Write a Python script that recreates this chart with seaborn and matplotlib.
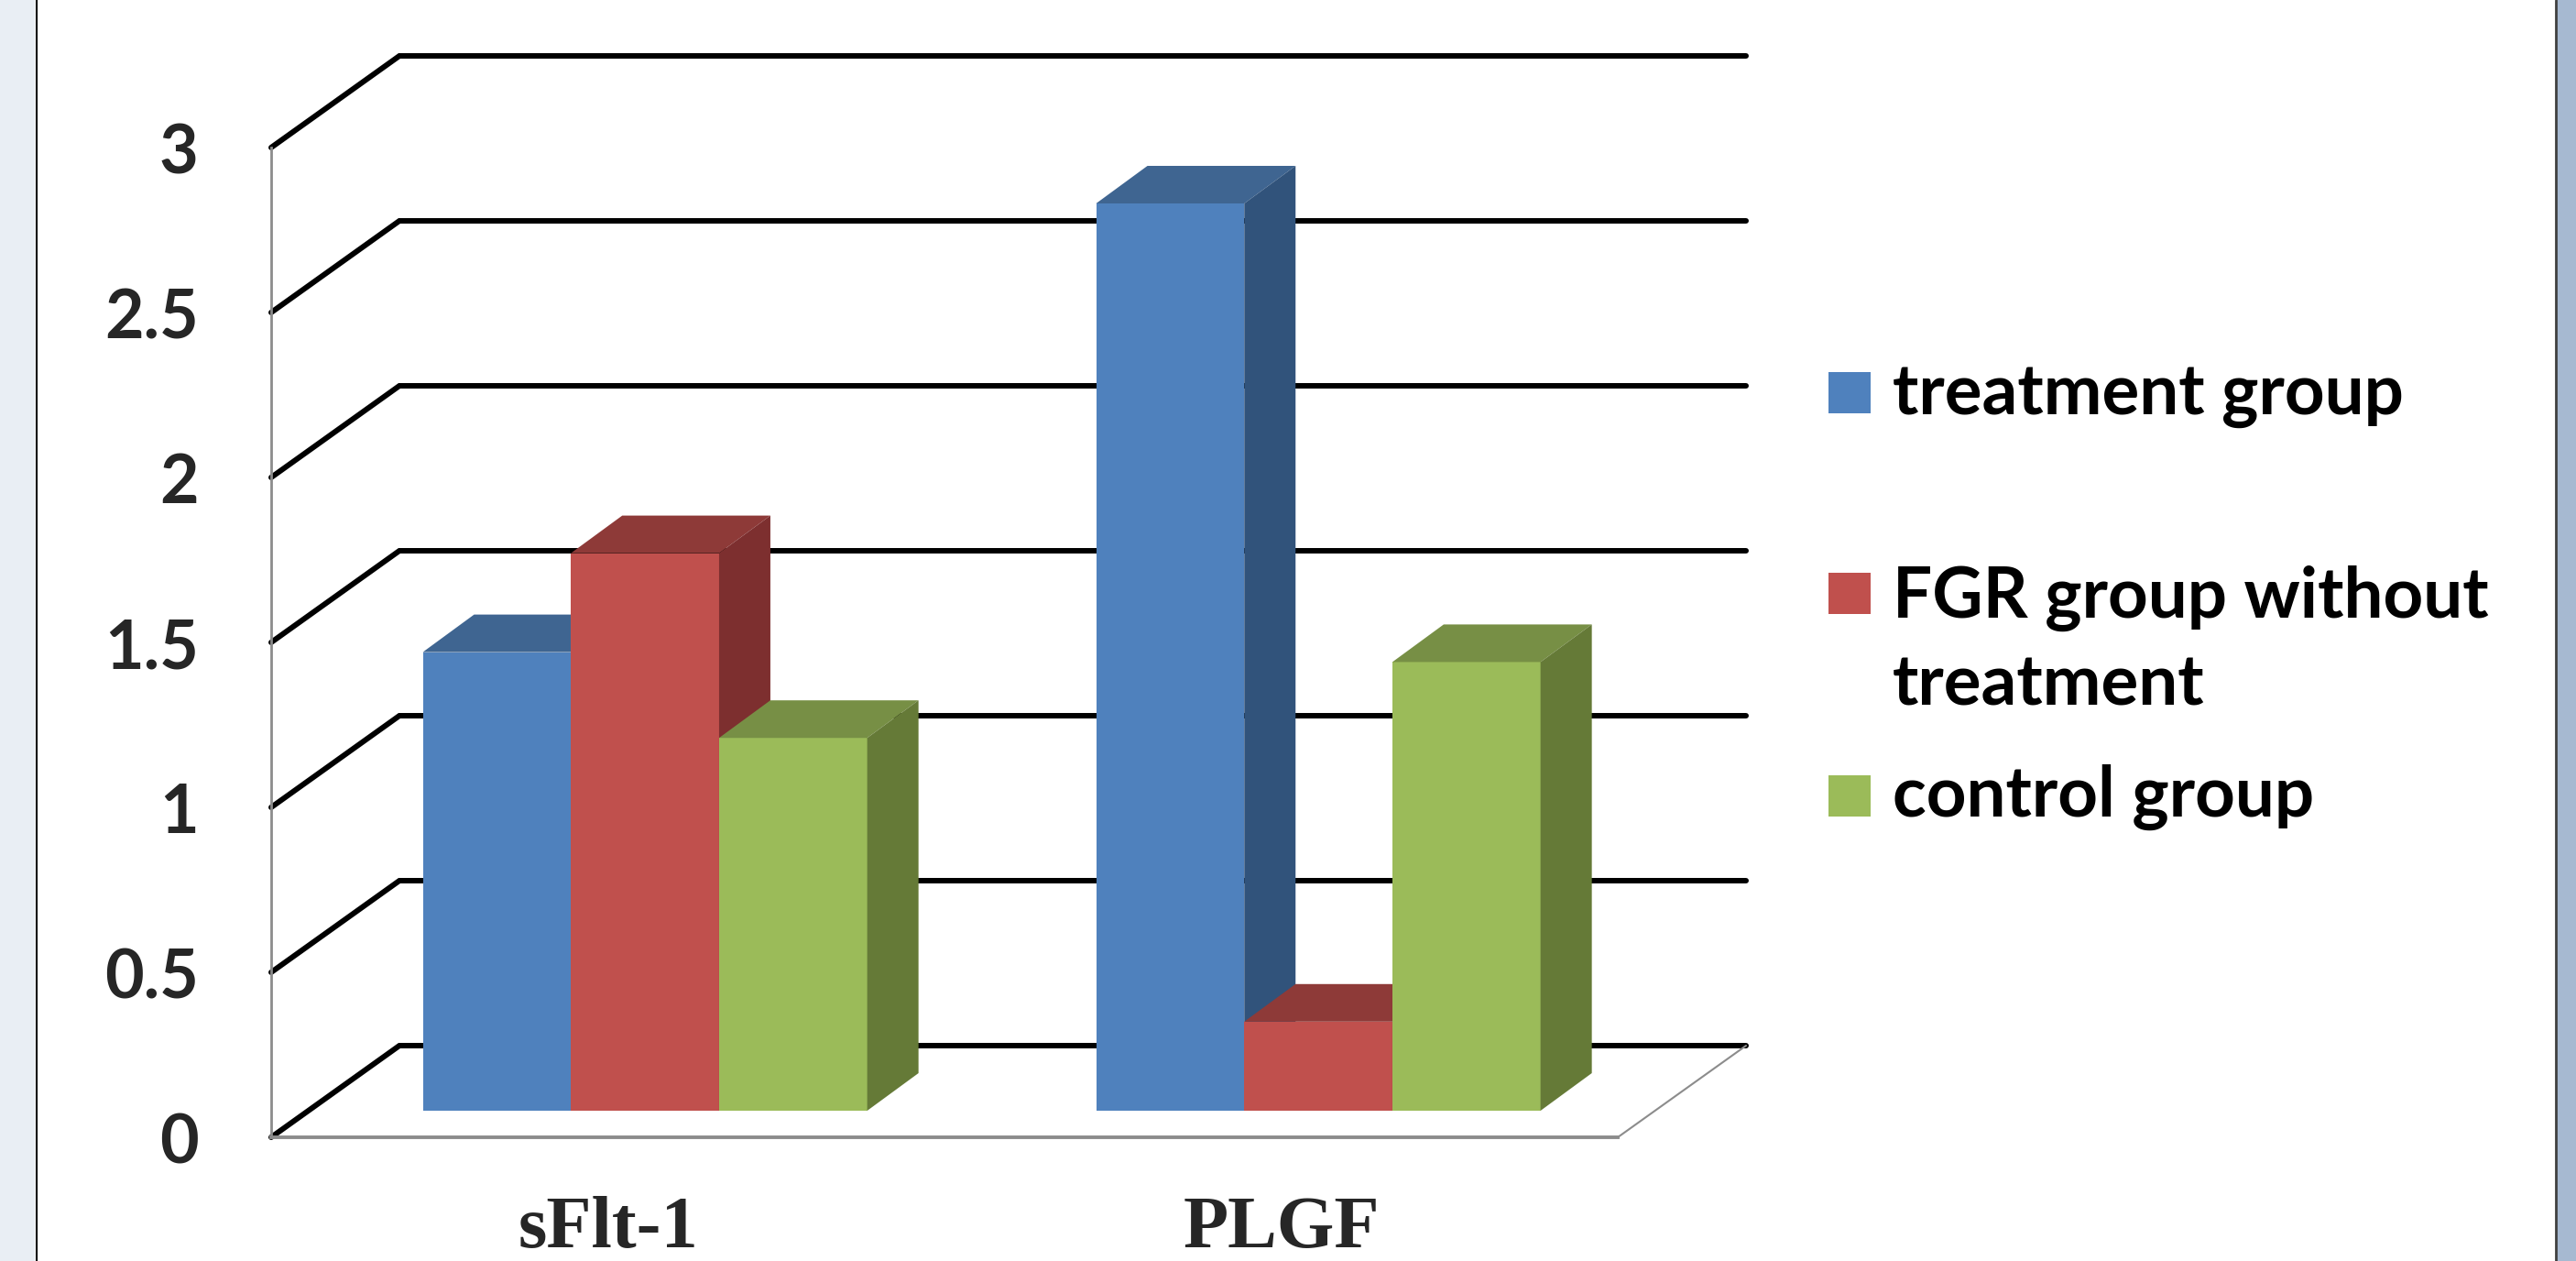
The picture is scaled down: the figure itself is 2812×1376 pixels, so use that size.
import numpy as np
import pandas as pd
import matplotlib
matplotlib.use("Agg")
import matplotlib.pyplot as plt
import matplotlib.transforms as mtransforms
from matplotlib.patches import Polygon, Rectangle
from matplotlib.lines import Line2D
import seaborn as sns

# ---------------- data ----------------
categories = ["sFlt-1", "PLGF"]
series_names = ["treatment group", "FGR group without\ntreatment", "control group"]
treatment_values = [1.39, 2.75]
fgr_values = [1.69, 0.27]
control_values = [1.13, 1.36]
y_ticks = [0, 0.5, 1, 1.5, 2, 2.5, 3]
y_tick_labels = ["0", "0.5", "1", "1.5", "2", "2.5", "3"]

# ---------------- style ----------------
front_colors = ["#4F81BD", "#C0504D", "#9BBB59"]
top_colors = ["#3F6591", "#8E3A38", "#778F45"]
side_colors = ["#31537B", "#7D2F2F", "#657A37"]
AXIS_GRAY = "#8C8C8C"

W, H, DPI = 2812, 1376, 100
sns.set_style("white")
plt.rcParams["font.family"] = ["Lato", "DejaVu Sans"]

fig = plt.figure(figsize=(W / DPI, H / DPI), dpi=DPI, facecolor="white")
ax_l, ax_b, ax_r, ax_t = 296, 1241, 1766, 161
ax = fig.add_axes([ax_l / W, 1 - ax_b / H, (ax_r - ax_l) / W, (ax_b - ax_t) / H])
ax.set_facecolor("none")

df = pd.DataFrame({
    "marker": categories * 3,
    "group": [series_names[0]] * 2 + [series_names[1]] * 2 + [series_names[2]] * 2,
    "value": treatment_values + fgr_values + control_values,
})
sns.barplot(data=df, x="marker", y="value", hue="group", hue_order=series_names,
            order=categories, palette=front_colors, saturation=1, width=0.66,
            linewidth=0, legend=False, ax=ax)
ax.set_xlim(-0.5, 1.5)
ax.set_ylim(0, 3)

px_x = (ax_r - ax_l) / 2.0
px_y = (ax_b - ax_t) / 3.0

# back wall gridlines with depth
DX, DY = 140 / px_x, 100 / px_y
for v in y_ticks:
    ax.plot([-0.5, -0.5 + DX, 1.5 + DX], [v, v + DY, v + DY], color="black", lw=4.3,
            clip_on=False, zorder=1, solid_capstyle="round", solid_joinstyle="miter")
ax.plot([1.5, 1.5 + DX], [0, DY], color=AXIS_GRAY, lw=1.5, clip_on=False, zorder=1)

# 3D bar faces
off = mtransforms.ScaledTranslation(40.6 / DPI, 29 / DPI, fig.dpi_scale_trans)
trans = ax.transData + off
bdx, bdy = 56 / px_x, 41 / px_y
bar_list = []
for k, cont in enumerate(ax.containers):
    for p in cont:
        bar_list.append((p, k))
bar_list.sort(key=lambda t: t[0].get_x())
for i, (p, k) in enumerate(bar_list):
    z = 3 + i * 0.1
    x, w, h = p.get_x(), p.get_width(), p.get_height()
    p.set_transform(trans)
    p.set_zorder(z)
    p.set_clip_on(False)
    top = Polygon([(x, h), (x + w, h), (x + w + bdx, h + bdy), (x + bdx, h + bdy)],
                  closed=True, facecolor=top_colors[k], edgecolor="none",
                  transform=trans, zorder=z + 0.01, clip_on=False)
    side = Polygon([(x + w, 0), (x + w + bdx, bdy), (x + w + bdx, h + bdy), (x + w, h)],
                   closed=True, facecolor=side_colors[k], edgecolor="none",
                   transform=trans, zorder=z + 0.02, clip_on=False)
    ax.add_patch(top)
    ax.add_patch(side)

# axes and ticks
for s in ["top", "right"]:
    ax.spines[s].set_visible(False)
ax.spines["left"].set_color(AXIS_GRAY)
ax.spines["left"].set_linewidth(2.0)
ax.spines["bottom"].set_color(AXIS_GRAY)
ax.spines["bottom"].set_linewidth(2.8)
ax.spines["left"].set_zorder(2)

ax.set_yticks(y_ticks, y_tick_labels)
ax.tick_params(axis="y", length=18, width=2, color=AXIS_GRAY, pad=39, labelsize=53)
for lab in ax.get_yticklabels():
    lab.set_fontweight("bold")
    lab.set_family(["Lato", "DejaVu Sans"])

ax.set_xticks([0, 1], categories)
ax.set_xticks([-0.5, 0.5, 1.5], minor=True)
ax.tick_params(axis="x", which="major", length=0, pad=46, labelsize=58)
ax.tick_params(axis="x", which="minor", length=18, width=1.5, color=AXIS_GRAY)
for lab in ax.get_xticklabels():
    lab.set_fontweight("bold")
    lab.set_family(["Liberation Serif", "DejaVu Serif"])
ax.set_xlabel("")
ax.set_ylabel("")

# legend (manual, Excel-like placement)
square_bottoms = [451, 670, 891]
text_last_baselines = [452, 770, 891]
for k, name in enumerate(series_names):
    yb = square_bottoms[k]
    fig.add_artist(Rectangle((1996 / W, 1 - yb / H), 46 / W, 45 / H,
                             transform=fig.transFigure, facecolor=front_colors[k],
                             edgecolor="none"))
    fig.text(2066 / W, 1 - text_last_baselines[k] / H, name, fontsize=55,
             fontweight="bold", family=["Lato", "DejaVu Sans"], va="baseline",
             ha="left", linespacing=1.42, color="black")

# frame strips
fig.add_artist(Rectangle((0, 0), 38 / W, 1, transform=fig.transFigure,
                         facecolor="#E9EEF4", edgecolor="none"))
fig.add_artist(Line2D([39.5 / W] * 2, [0, 1], transform=fig.transFigure,
                      color="black", lw=1.5))
fig.add_artist(Rectangle((2791 / W, 0), 21 / W, 1, transform=fig.transFigure,
                         facecolor="#A6B9D1", edgecolor="none"))
fig.add_artist(Line2D([2790 / W] * 2, [0, 1], transform=fig.transFigure,
                      color="#404040", lw=2))

fig.savefig("out.png", dpi=DPI, facecolor="white")
